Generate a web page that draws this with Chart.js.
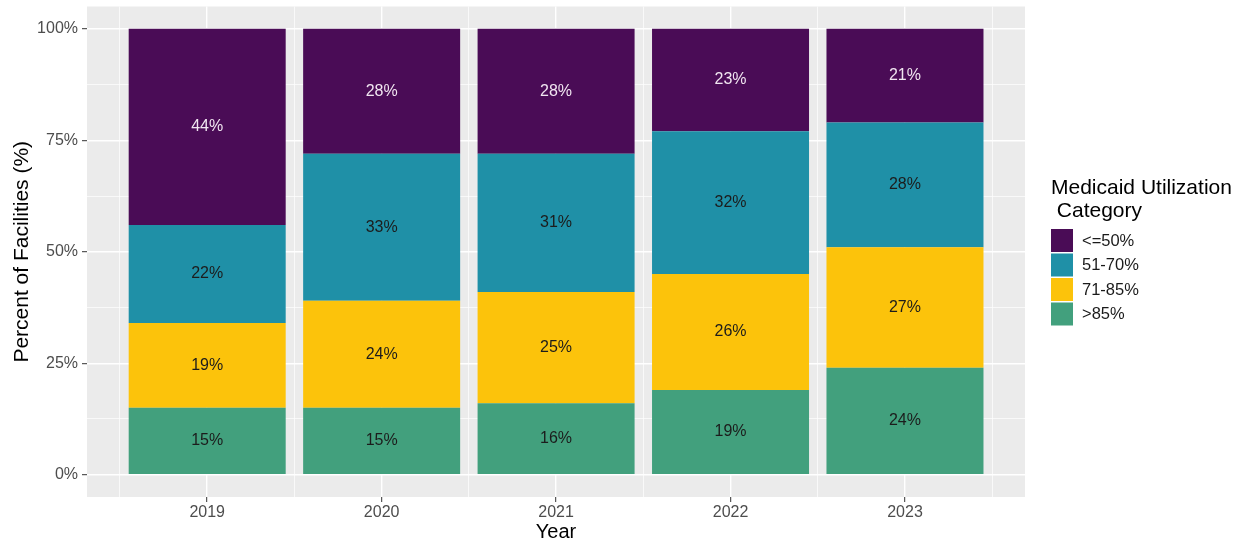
<!DOCTYPE html>
<html>
<head>
<meta charset="utf-8">
<title>Medicaid Utilization by Year</title>
<script src="https://cdn.jsdelivr.net/npm/chart.js@4.4.1/dist/chart.umd.min.js"></script>
<style>
  html, body { margin: 0; padding: 0; background: #fff; }
  #wrap { width: 1247px; height: 546px; position: relative; }
</style>
</head>
<body>
<div id="wrap"><canvas id="facilityChart" width="1247" height="546"></canvas></div>
<script>
const years = [2019, 2020, 2021, 2022, 2023];

// share of facilities per Medicaid utilization category, percent
const over85 = [15, 15, 16, 19, 24];
const from71to85 = [19, 24, 25, 26, 27];
const from51to70 = [22, 33, 31, 32, 28];
const upTo50 = [44, 28, 28, 23, 21];

const categoryNames = ['>85%', '71-85%', '51-70%', '<=50%'];
const yTicks = [0, 25, 50, 75, 100];

const FONT = '"Liberation Sans", Arial, sans-serif';

const toPoints = vals => years.map((yr, i) => ({x: yr, y: vals[i]}));

const series = [
  {label: categoryNames[0], values: over85, color: '#42a07d', text: '#1c1c1c'},
  {label: categoryNames[1], values: from71to85, color: '#fcc30b', text: '#1c1c1c'},
  {label: categoryNames[2], values: from51to70, color: '#1f90a7', text: '#1c1c1c'},
  {label: categoryNames[3], values: upTo50, color: '#4a0c56', text: '#f1e6f1'},
];

// grey panel behind the plot area
const panelBg = {
  id: 'panelBg',
  beforeDraw(chart) {
    const {ctx, chartArea: a} = chart;
    ctx.save();
    ctx.fillStyle = '#ebebeb';
    ctx.fillRect(a.left, a.top, a.right - a.left, a.bottom - a.top);
    ctx.restore();
  }
};

// percentage written in the middle of each stacked segment
const segmentLabels = {
  id: 'segmentLabels',
  afterDatasetsDraw(chart) {
    const {ctx} = chart;
    ctx.save();
    ctx.font = '16px ' + FONT;
    ctx.textAlign = 'center';
    ctx.textBaseline = 'middle';
    chart.data.datasets.forEach((ds, di) => {
      const meta = chart.getDatasetMeta(di);
      ctx.fillStyle = series[di].text;
      meta.data.forEach((bar, i) => {
        const mid = (bar.y + bar.base) / 2;
        ctx.fillText(ds.data[i].y + '%', bar.x, mid);
      });
    });
    ctx.restore();
  }
};

// ggplot-like legend: title on two lines, square keys, top category first
const sideLegend = {
  id: 'sideLegend',
  afterDraw(chart) {
    const {ctx} = chart;
    const left = 1051, top = 229, key = 22, row = 24.5;
    ctx.save();
    ctx.fillStyle = '#000';
    ctx.textAlign = 'left';
    ctx.textBaseline = 'middle';
    ctx.font = '21px ' + FONT;
    ctx.fillText('Medicaid Utilization', left, 188);
    ctx.fillText(' Category', left, 211);
    ctx.font = '16.5px ' + FONT;
    const items = chart.data.datasets.slice().reverse();
    items.forEach((ds, i) => {
      const y = top + i * row;
      ctx.fillStyle = ds.backgroundColor;
      ctx.fillRect(left, y, key, row - 1.5);
      ctx.fillStyle = '#1a1a1a';
      ctx.fillText(ds.label, left + 31, y + row / 2);
    });
    ctx.restore();
  }
};

const isWhole = v => Math.abs(v - Math.round(v)) < 1e-6;
const isMajorPct = v => yTicks.includes(v);

// keep tick-label overhang from pushing the plot area around
const noOverhang = scale => {
  scale.paddingTop = 0;
  scale.paddingBottom = 0;
  scale.paddingLeft = 0;
  scale.paddingRight = 0;
};

new Chart(document.getElementById('facilityChart'), {
  type: 'bar',
  data: {
    datasets: series.map(s => ({
      label: s.label,
      data: toPoints(s.values),
      backgroundColor: s.color,
      borderWidth: 0,
      // x ticks sit every half year, so one year covers two tick steps
      categoryPercentage: 1.8,
      barPercentage: 1,
    })),
  },
  options: {
    responsive: false,
    animation: false,
    layout: {padding: {top: 6.5, right: 222, bottom: 0, left: 0}},
    plugins: {
      legend: {display: false},
      tooltip: {enabled: false},
    },
    scales: {
      x: {
        type: 'linear',
        stacked: true,
        offset: false,
        min: 2018.311,
        max: 2023.688,
        afterFit: scale => { scale.height = 49; noOverhang(scale); },
        grid: {
          offset: false,
          color: '#ffffff',
          lineWidth: c => (isWhole(c.tick.value) ? 1.4 : 0.7),
          tickColor: c => (isWhole(c.tick.value) ? '#333333' : 'rgba(0,0,0,0)'),
          tickLength: 5,
          tickWidth: 1,
        },
        border: {display: false},
        ticks: {
          stepSize: 0.5,
          includeBounds: false,
          autoSkip: false,
          maxRotation: 0,
          padding: 1,
          color: '#4d4d4d',
          font: {family: FONT, size: 16},
          callback: v => (isWhole(v) ? String(Math.round(v)) : ''),
        },
        title: {
          display: true,
          text: 'Year',
          color: '#000',
          font: {family: FONT, size: 20},
          padding: {top: 0, bottom: 2},
        },
      },
      y: {
        stacked: true,
        min: -5,
        max: 105,
        afterFit: scale => { scale.width = 87; noOverhang(scale); },
        grid: {
          color: '#ffffff',
          lineWidth: c => (isMajorPct(c.tick.value) ? 1.4 : 0.7),
          tickColor: c => (isMajorPct(c.tick.value) ? '#333333' : 'rgba(0,0,0,0)'),
          tickLength: 5,
          tickWidth: 1,
        },
        border: {display: false},
        ticks: {
          stepSize: 12.5,
          includeBounds: false,
          autoSkip: false,
          padding: 4,
          color: '#4d4d4d',
          font: {family: FONT, size: 16},
          callback: v => (isMajorPct(v) ? v + '%' : ''),
        },
        title: {
          display: true,
          text: 'Percent of Facilities (%)',
          color: '#000',
          font: {family: FONT, size: 21},
          padding: {top: 10, bottom: 0},
        },
      },
    },
  },
  plugins: [panelBg, segmentLabels, sideLegend],
});
</script>
</body>
</html>
